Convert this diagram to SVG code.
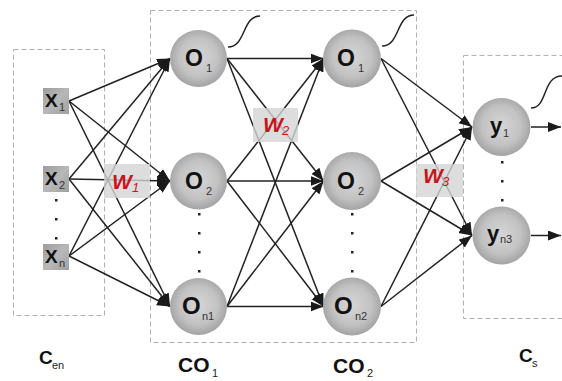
<svg xmlns="http://www.w3.org/2000/svg" width="562" height="381" viewBox="0 0 562 381">
  <defs>
    <radialGradient id="sphere" cx="50%" cy="48%" r="52%">
      <stop offset="0" stop-color="#d6d6d6"/>
      <stop offset="0.65" stop-color="#c2c2c2"/>
      <stop offset="1" stop-color="#a3a3a3"/>
    </radialGradient>
    <linearGradient id="inbox" x1="0" y1="0" x2="1" y2="1">
      <stop offset="0" stop-color="#9c9c9c"/>
      <stop offset="0.5" stop-color="#b8b8b8"/>
      <stop offset="1" stop-color="#a0a0a0"/>
    </linearGradient>
    <marker id="arrow" markerUnits="userSpaceOnUse" markerWidth="14" markerHeight="11" refX="13" refY="5" orient="auto">
      <path d="M0,0 L13,5 L0,10 Z" fill="#1a1a1a"/>
    </marker>
    <style>
      .grp { fill: none; stroke: #b0b0b0; stroke-width: 1; stroke-dasharray: 5 3; }
      .edge { stroke: #222; stroke-width: 1.5; fill: none; marker-end: url(#arrow); }
      .wire { stroke: #222; stroke-width: 1.5; fill: none; }
      .ball { fill: url(#sphere); }
      .sq { fill: url(#inbox); }
      .dot { fill: #222; }
      .big { font-family: "Liberation Sans", Arial, sans-serif; font-weight: bold; fill: #111; }
      .xs { font-family: "Liberation Sans", Arial, sans-serif; font-size: 19px; font-weight: bold; fill: #111; }
      .sub { font-family: "Liberation Sans", Arial, sans-serif; font-size: 11px; fill: #333; }
      .wbox { fill: #d4d4d4; fill-opacity: 0.8; }
      .w { font-family: "Liberation Sans", Arial, sans-serif; font-weight: bold; font-style: italic; font-size: 21px; letter-spacing: -1px; fill: #c8141e; }
      .wsub { font-family: "Liberation Sans", Arial, sans-serif; font-style: italic; font-size: 13px; fill: #c8141e; }
      .cap { font-family: "Liberation Sans", Arial, sans-serif; font-weight: bold; fill: #111; }
      .capsub { font-family: "Liberation Sans", Arial, sans-serif; font-size: 11px; fill: #222; }
    </style>
  </defs>

  <rect width="562" height="381" fill="#fff"/>

  <!-- layer frames -->
  <g id="frames">
    <rect class="grp" x="13.5" y="49.5" width="91" height="266"/>
    <rect class="grp" x="150.5" y="10.5" width="266" height="332"/>
    <rect class="grp" x="463.5" y="55.5" width="110" height="263"/>
  </g>

  <!-- connectors -->
  <g id="connectors">
    <!-- inputs to first hidden layer -->
    <line class="edge" x1="69" y1="101" x2="170" y2="58.5"/>
    <line class="edge" x1="69" y1="101" x2="170" y2="181"/>
    <line class="edge" x1="69" y1="101" x2="170" y2="306.5"/>
    <line class="edge" x1="69" y1="179" x2="170" y2="58.5"/>
    <line class="edge" x1="69" y1="179" x2="170" y2="181"/>
    <line class="edge" x1="69" y1="179" x2="170" y2="306.5"/>
    <line class="edge" x1="69" y1="256" x2="170" y2="58.5"/>
    <line class="edge" x1="69" y1="256" x2="170" y2="181"/>
    <line class="edge" x1="69" y1="256" x2="170" y2="306.5"/>
    <!-- first to second hidden layer -->
    <line class="edge" x1="227" y1="58.5" x2="323.5" y2="58.5"/>
    <line class="edge" x1="227" y1="58.5" x2="323.5" y2="181"/>
    <line class="edge" x1="227" y1="58.5" x2="323.5" y2="306.5"/>
    <line class="edge" x1="227" y1="181" x2="323.5" y2="58.5"/>
    <line class="edge" x1="227" y1="181" x2="323.5" y2="181"/>
    <line class="edge" x1="227" y1="181" x2="323.5" y2="306.5"/>
    <line class="edge" x1="227" y1="306.5" x2="323.5" y2="58.5"/>
    <line class="edge" x1="227" y1="306.5" x2="323.5" y2="181"/>
    <line class="edge" x1="227" y1="306.5" x2="323.5" y2="306.5"/>
    <!-- second hidden layer to outputs -->
    <line class="edge" x1="381" y1="58.5" x2="472" y2="127"/>
    <line class="edge" x1="381" y1="58.5" x2="472" y2="235.5"/>
    <line class="edge" x1="381" y1="181" x2="472" y2="127"/>
    <line class="edge" x1="381" y1="181" x2="472" y2="235.5"/>
    <line class="edge" x1="381" y1="306.5" x2="472" y2="127"/>
    <line class="edge" x1="381" y1="306.5" x2="472" y2="235.5"/>
    <!-- outputs -->
    <line class="edge" x1="531" y1="127" x2="561" y2="127"/>
    <line class="edge" x1="531" y1="235.5" x2="561" y2="235.5"/>
    <!-- activation curves -->
    <path class="wire" d="M228,47 C246,47 242,16 260,16"/>
    <path class="wire" d="M382,46 C400,46 396,15 414,15"/>
    <path class="wire" d="M531,108 C548,108 542,76 562,76"/>
  </g>

  <!-- weight labels -->
  <g id="w1">
    <rect class="wbox" x="104" y="164" width="46" height="34"/>
    <text class="w" x="112" y="189">W</text><text class="wsub" x="132" y="192">1</text>
  </g>
  <g id="w2">
    <rect class="wbox" x="253" y="108" width="45" height="34"/>
    <text class="w" x="263" y="132">W</text><text class="wsub" x="282" y="135">2</text>
  </g>
  <g id="w3">
    <rect class="wbox" x="416" y="164" width="47" height="33"/>
    <text class="w" x="423" y="183">W</text><text class="wsub" x="442" y="186">3</text>
  </g>

  <!-- inputs -->
  <g id="x1">
    <rect class="sq" x="43" y="88" width="26" height="26"/>
    <text class="xs" x="45" y="107">X</text><text class="sub" x="59" y="111">1</text>
  </g>
  <g id="x2">
    <rect class="sq" x="43" y="166" width="26" height="26"/>
    <text class="xs" x="45" y="185">X</text><text class="sub" x="59" y="189">2</text>
  </g>
  <g id="xn">
    <rect class="sq" x="43" y="244" width="26" height="26"/>
    <text class="xs" x="45" y="263">X</text><text class="sub" x="59" y="267">n</text>
  </g>
  <g id="x-dots">
    <rect class="dot" x="55" y="199" width="2.5" height="2.5"/>
    <rect class="dot" x="55" y="218" width="2.5" height="2.5"/>
    <rect class="dot" x="55" y="237" width="2.5" height="2.5"/>
  </g>

  <!-- first hidden layer -->
  <g id="o1-1">
    <circle class="ball" cx="198.5" cy="58.5" r="28.5"/>
    <text class="big" font-size="23" x="185" y="66">O</text><text class="sub" x="206" y="72">1</text>
  </g>
  <g id="o1-2">
    <circle class="ball" cx="198.5" cy="181" r="28.5"/>
    <text class="big" font-size="23" x="185" y="188.5">O</text><text class="sub" x="206" y="194.5">2</text>
  </g>
  <g id="o1-n">
    <circle class="ball" cx="198.5" cy="306.5" r="28.5"/>
    <text class="big" font-size="24" x="182" y="314">O</text><text class="sub" x="202" y="320">n1</text>
  </g>
  <g id="o1-dots">
    <rect class="dot" x="198" y="213" width="2.5" height="2.5"/>
    <rect class="dot" x="198" y="232" width="2.5" height="2.5"/>
    <rect class="dot" x="198" y="251" width="2.5" height="2.5"/>
    <rect class="dot" x="198" y="270" width="2.5" height="2.5"/>
  </g>

  <!-- second hidden layer -->
  <g id="o2-1">
    <circle class="ball" cx="352" cy="58.5" r="29"/>
    <text class="big" font-size="23" x="337" y="66">O</text><text class="sub" x="358" y="72">1</text>
  </g>
  <g id="o2-2">
    <circle class="ball" cx="352" cy="181" r="29"/>
    <text class="big" font-size="23" x="337" y="188.5">O</text><text class="sub" x="358" y="194.5">2</text>
  </g>
  <g id="o2-n">
    <circle class="ball" cx="352" cy="306.5" r="29"/>
    <text class="big" font-size="24" x="334" y="314">O</text><text class="sub" x="355" y="320">n2</text>
  </g>
  <g id="o2-dots">
    <rect class="dot" x="351" y="213" width="2.5" height="2.5"/>
    <rect class="dot" x="351" y="232" width="2.5" height="2.5"/>
    <rect class="dot" x="351" y="251" width="2.5" height="2.5"/>
    <rect class="dot" x="351" y="270" width="2.5" height="2.5"/>
  </g>

  <!-- outputs -->
  <g id="y1">
    <circle class="ball" cx="501.5" cy="127" r="29"/>
    <text class="big" font-size="22" x="490" y="133">y</text><text class="sub" x="503" y="137">1</text>
  </g>
  <g id="yn">
    <circle class="ball" cx="501.5" cy="235.5" r="29"/>
    <text class="big" font-size="22" x="487" y="241">y</text><text class="sub" font-size="12" x="500" y="243">n3</text>
  </g>
  <g id="y-dots">
    <rect class="dot" x="501" y="161" width="2.5" height="2.5"/>
    <rect class="dot" x="501" y="180" width="2.5" height="2.5"/>
    <rect class="dot" x="501" y="199" width="2.5" height="2.5"/>
  </g>

  <!-- layer captions -->
  <g id="captions">
    <text class="cap" font-size="19" x="39" y="364">C</text><text class="capsub" x="52" y="369">en</text>
    <text class="cap" font-size="21" x="178" y="372">CO</text><text class="capsub" font-size="12" x="212" y="377">1</text>
    <text class="cap" font-size="21" x="333" y="373">CO</text><text class="capsub" font-size="12" x="367" y="377">2</text>
    <text class="cap" font-size="19" x="519" y="362">C</text><text class="capsub" x="532" y="367">s</text>
  </g>
</svg>
